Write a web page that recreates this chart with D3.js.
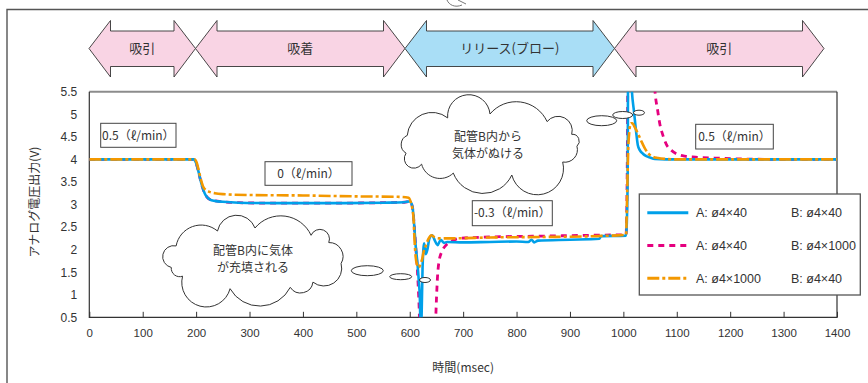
<!DOCTYPE html>
<html><head><meta charset="utf-8">
<script src="https://cdn.jsdelivr.net/npm/d3@7"></script>
<style>
body{margin:0;background:#fff}
svg{display:block}
text{font-family:"Liberation Sans",Arial,"Noto Sans CJK JP",sans-serif;fill:#333}
.jp{font-family:"Noto Sans CJK JP","Noto Sans",sans-serif}
</style>
</head><body>
<svg id="c" width="868" height="383"></svg>
<script>
// ---- data ----
const xTicks=[0,100,200,300,400,500,600,700,800,900,1000,1100,1200,1300,1400];
const yTicks=[0.5,1,1.5,2,2.5,3,3.5,4,4.5,5,5.5];
const phaseLabels=["吸引","吸着","リリース(ブロー)","吸引"];
const phaseKinds=["suck","suck","blow","suck"];
const flowLabels=["0.5（ℓ/min）","0（ℓ/min）","-0.3（ℓ/min）","0.5（ℓ/min）"];
const seriesNames=["A: ø4×40|B: ø4×40","A: ø4×40|B: ø4×1000","A: ø4×1000|B: ø4×40"];

// series 1 : A ø4×40, B ø4×40 (blue, solid)
const blueT=[0,195,200,204,208,212,216,220,226,235,250,280,350,450,550,590,600,605,608,611,614,617,619,620.5,622,624,627,630,633,637,642,647,652,658,664,670,700,750,800,822,828,833,840,900,955,958,1005,1008,1009,1012,1016,1020,1024,1027,1031,1037,1043,1050,1059,1080,1200,1300,1400];
const blueV=[4.0,4.0,3.92,3.75,3.55,3.38,3.25,3.17,3.11,3.08,3.06,3.04,3.03,3.03,3.04,3.05,3.07,2.95,2.6,2.1,1.75,1.3,0.9,0.0,0.4,1.6,2.14,1.9,2.0,2.25,2.32,2.2,2.1,2.22,2.15,2.17,2.16,2.17,2.18,2.17,2.22,2.16,2.2,2.22,2.24,2.3,2.31,3.5,6.5,6.5,5.5,5.05,4.6,4.32,4.2,4.12,4.07,4.04,4.01,4.0,4.0,4.0,4.0];

// series 2 : A ø4×40, B ø4×1000 (magenta, dashed)
const pinkT=[0,195,200,204,208,212,216,220,226,235,250,280,350,450,550,590,600,605,608,611,614,617,620,645,648,650,652,655,660,668,677,694,750,850,950,1005,1007,1009,1055,1059,1064,1068,1075,1082,1090,1100,1115,1135,1170,1220,1300,1400];
const pinkV=[4.0,4.0,3.92,3.75,3.55,3.38,3.25,3.17,3.11,3.08,3.06,3.04,3.03,3.03,3.04,3.05,3.07,2.95,2.6,2.1,1.6,0.9,0.0,0.0,0.3,0.9,1.4,1.75,1.95,2.1,2.18,2.25,2.28,2.3,2.32,2.33,3.5,6.5,6.5,5.55,5.1,4.8,4.5,4.3,4.2,4.12,4.07,4.05,4.03,4.01,4.0,4.0];

// series 3 : A ø4×1000, B ø4×40 (orange, dash-dot)
const orangeT=[0,197,201,205,209,213,218,225,235,250,300,400,500,580,598,602,605,607,609,611,614,617,620,623,626,630,635,641,647,655,680,750,850,950,1005,1007,1009,1011,1014,1017,1021,1027,1033,1040,1047,1055,1065,1080,1100,1400];
const orangeV=[4.0,4.0,3.93,3.75,3.55,3.4,3.32,3.28,3.25,3.23,3.21,3.2,3.18,3.17,3.15,3.05,2.9,2.7,2.2,1.85,1.65,1.6,1.68,1.78,1.95,2.08,2.24,2.32,2.27,2.25,2.25,2.27,2.28,2.3,2.33,3.2,4.2,4.6,4.8,4.8,4.72,4.58,4.42,4.25,4.13,4.06,4.03,4.01,4.0,4.0];

// ---- layout ----
const svg=d3.select("#c");
const L=89.3,R=837,T=91.7,B=317.3;
const x=d3.scaleLinear().domain([0,1400]).range([L,R]);
const y=d3.scaleLinear().domain([0.5,5.5]).range([B,T]);

// outer frame
svg.append("path").attr("d","M7,383 L7,9.5 L868,9.5").attr("fill","none").attr("stroke","#555").attr("stroke-width",1.4);
svg.append("path").attr("d","M447,0 C449,5 455,8 462,5 M458,0 L466,4").attr("fill","none").attr("stroke","#777").attr("stroke-width",1);

// phase arrows
const tips=[89,195.5,405,614.5,824];
const cy=48.5,hT=20.5,bT=31,bB=66.5,hB=77,hw=21.5;
phaseLabels.forEach((lab,i)=>{
  const x0=tips[i],x1=tips[i+1];
  const pts=[[x0,cy],[x0+hw,hT],[x0+hw,bT],[x1-hw,bT],[x1-hw,hT],[x1,cy],[x1-hw,hB],[x1-hw,bB],[x0+hw,bB],[x0+hw,hB]];
  svg.append("path").attr("d","M"+pts.map(p=>p.join(",")).join("L")+"Z")
    .attr("fill",phaseKinds[i]==="blow"?"#a9def6":"#f9d4e4").attr("stroke","#333").attr("stroke-width",0.9);
  svg.append("text").attr("class","jp").attr("x",(x0+x1)/2).attr("y",cy).attr("dy","0.35em")
    .attr("text-anchor","middle").attr("font-size",13).attr("fill","#333").text(lab);
});

// plot frame
svg.append("line").attr("x1",L).attr("x2",R).attr("y1",T).attr("y2",T).attr("stroke","#8c8c8c").attr("stroke-width",2);
svg.append("path").attr("d",`M${R},${T} L${R},${B} L${L},${B} L${L},${T}`).attr("fill","none").attr("stroke","#333").attr("stroke-width",1.2);

// axes
const xa=svg.append("g").attr("transform",`translate(0,${B})`)
  .call(d3.axisBottom(x).tickValues(xTicks).tickSizeInner(-5.5).tickSizeOuter(0).tickPadding(12).tickFormat(d=>d));
xa.select(".domain").remove();
xa.selectAll("line").attr("stroke","#333");
xa.selectAll("text").attr("font-size",11.5).attr("fill","#333").style("font-family",'"Liberation Sans Narrow","Liberation Sans",Arial,sans-serif');
const ya=svg.append("g").attr("transform",`translate(${L},0)`)
  .call(d3.axisLeft(y).tickValues(yTicks).tickSize(0).tickPadding(12).tickFormat(d=>String(d)));
ya.select(".domain").remove();
ya.selectAll("text").attr("font-size",12).attr("fill","#333");

svg.append("text").attr("class","jp").attr("x",(L+R)/2).attr("y",372).attr("text-anchor","middle").attr("font-size",12).attr("fill","#444").text("時間(msec)");
svg.append("text").attr("class","jp").attr("transform","translate(35,202) rotate(-90)").attr("text-anchor","middle").attr("dy","0.35em").attr("font-size",12).attr("fill","#444").text("アナログ電圧出力(V)");

// clip
svg.append("clipPath").attr("id","pc").append("rect").attr("x",L).attr("y",T).attr("width",R-L).attr("height",B-T);
const gL=svg.append("g").attr("clip-path","url(#pc)");
const line=d3.line().x(d=>x(d[0])).y(d=>y(d[1])).curve(d3.curveMonotoneX);
const mk=(T_,V_)=>T_.map((t,i)=>[t,V_[i]]);
const styles=[
  {c:"#00a0e9",w:2.6,dash:null},
  {c:"#e5007f",w:2.8,dash:"6,5"},
  {c:"#f39800",w:2.6,dash:"12,3,3,3"}
];
const data=[mk(blueT,blueV),mk(pinkT,pinkV),mk(orangeT,orangeV)];
[1,0,2].forEach(i=>{
  gL.append("path").attr("d",line(data[i])).attr("fill","none").attr("stroke",styles[i].c)
    .attr("stroke-width",styles[i].w).attr("stroke-dasharray",styles[i].dash).attr("stroke-linejoin","round");
});

// clouds
function cloud(cx,cy,rx,ry,n,seed){
  let d="";const pts=[];
  for(let i=0;i<n;i++){
    const a=-Math.PI/2+i*2*Math.PI/n+0.15*Math.sin(i*seed);
    pts.push([cx+rx*Math.cos(a),cy+ry*Math.sin(a)]);
  }
  pts.forEach((p,i)=>{
    const q=pts[(i+1)%n];
    const c=Math.hypot(q[0]-p[0],q[1]-p[1]);
    const r=c*(0.54+0.05*Math.cos(i*seed*1.7));
    if(i===0)d+=`M${p[0]},${p[1]}`;
    d+=`A${r},${r} 0 0 1 ${q[0]},${q[1]}`;
  });
  return d+"Z";
}
function drawCloud(cx,cy,rx,ry,n,seed,lines,bubbles){
  svg.append("path").attr("d",cloud(cx,cy,rx,ry,n,seed)).attr("fill","#fff").attr("stroke","#333").attr("stroke-width",1);
  bubbles.forEach(b=>svg.append("ellipse").attr("cx",b[0]).attr("cy",b[1]).attr("rx",b[2]).attr("ry",b[3]).attr("fill","#fff").attr("stroke","#333").attr("stroke-width",1));
  lines.forEach((t,i)=>svg.append("text").attr("class","jp").attr("x",cx-2).attr("y",cy-8.5+i*17).attr("dy","0.35em").attr("text-anchor","middle").attr("font-size",12).attr("fill","#555").text(t));
}
drawCloud(490,145,87,31,11,1.3,["配管B内から","気体がぬける"],[[601.7,120.7,15,5],[622.7,115,10,3.5],[639,112.7,5.5,2.5]]);
drawCloud(255,259,87,31,11,2.1,["配管B内に気体","が充填される"],[[367.3,270.7,16,5],[400.7,276.7,11,3],[425,280,5.5,2.5]]);

// flow boxes
const boxes=[[100.7,123.3,75.3,24],[265,161.7,87,23.6],[472.3,200.7,80,25],[695.7,124.3,77.6,24.7]];
flowLabels.forEach((t,i)=>{
  const b=boxes[i];
  svg.append("rect").attr("x",b[0]).attr("y",b[1]).attr("width",b[2]).attr("height",b[3]).attr("fill","#fff").attr("stroke","#444").attr("stroke-width",1);
  svg.append("text").attr("class","jp").attr("x",b[0]+b[2]/2).attr("y",b[1]+b[3]/2).attr("dy","0.35em").attr("text-anchor","middle").attr("font-size",12).attr("fill","#333").text(t);
});

// legend
svg.append("rect").attr("x",639.3).attr("y",194).attr("width",221).attr("height",101).attr("fill","#fff").attr("stroke","#555").attr("stroke-width",1.3);
seriesNames.forEach((s,i)=>{
  const yy=212.7+i*32.8;
  svg.append("line").attr("x1",647.3).attr("x2",688.3).attr("y1",yy).attr("y2",yy).attr("stroke",styles[i].c).attr("stroke-width",3).attr("stroke-dasharray",styles[i].dash);
  const [a,b]=s.split("|");
  svg.append("text").attr("x",696).attr("y",yy).attr("dy","0.35em").attr("font-size",12.5).attr("fill","#333").text(a);
  svg.append("text").attr("x",791).attr("y",yy).attr("dy","0.35em").attr("font-size",12.5).attr("fill","#333").text(b);
});
</script>
</body></html>
